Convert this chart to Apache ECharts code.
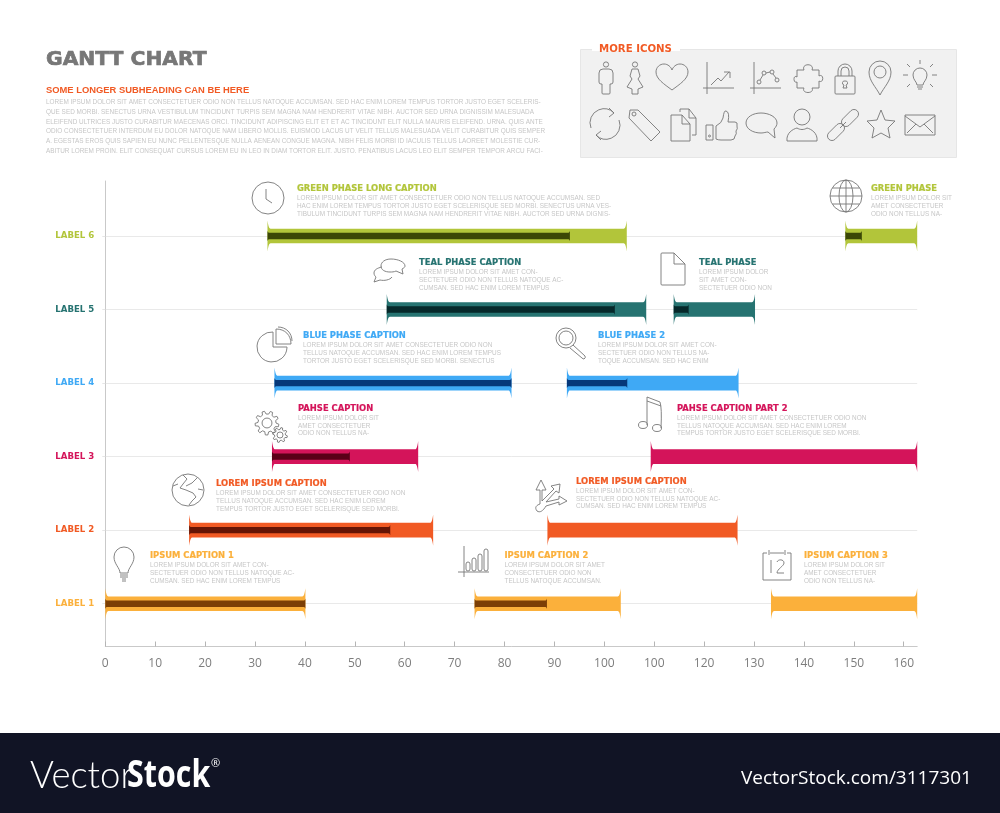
<!DOCTYPE html>
<html><head><meta charset="utf-8">
<style>html,body{margin:0;padding:0;background:#fff}#c{width:1000px;height:813px}</style>
<script src="https://cdn.jsdelivr.net/npm/echarts@6/dist/echarts.min.js"></script>
</head><body><div id="c"></div>
<script>
// ---------- data ----------
const categories = ['LABEL 1','LABEL 2','LABEL 3','LABEL 4','LABEL 5','LABEL 6'];
const rowValues  = [1,2,3,4,5,6];
const tickValues = [0,10,20,30,40,50,60,70,80,90,100,110,120,130,140,150,160];
const tickLabels = ['0','10','20','30','40','50','60','70','80','90','100','100','120','130','140','150','160'];
const phaseRows  = [1,1,1, 2,2, 3,3, 4,4, 5,5, 6,6];
const phaseStart = [0,74,133.4, 16.8,88.6, 33.4,109.3, 33.9,92.5, 56.4,113.9, 32.5,148.3];
const phaseEnd   = [40.1,103.3,162.7, 65.7,126.7, 62.7,162.7, 81.4,126.9, 108.4,130.2, 104.5,162.7];
const phaseDone  = [40.1,88.5,null, 57.1,null, 49,null, 81.4,104.6, 102.1,116.9, 93.1,151.6];
const captions = ['IPSUM CAPTION 1','IPSUM CAPTION 2','IPSUM CAPTION 3','LOREM IPSUM CAPTION','LOREM IPSUM CAPTION','PAHSE CAPTION','PAHSE CAPTION PART 2','BLUE PHASE CAPTION','BLUE PHASE 2','TEAL PHASE CAPTION','TEAL PHASE','GREEN PHASE LONG CAPTION','GREEN PHASE'];
const L_CON = ['LOREM IPSUM DOLOR SIT AMET CON-','SECTETUER ODIO NON TELLUS NATOQUE AC-','CUMSAN. SED HAC ENIM LOREM TEMPUS'];
const L_SHORT = ['LOREM IPSUM DOLOR SIT','AMET CONSECTETUER','ODIO NON TELLUS NA-'];
const L_LONG = ['LOREM IPSUM DOLOR SIT AMET CONSECTETUER ODIO NON','TELLUS NATOQUE ACCUMSAN. SED HAC ENIM LOREM','TEMPUS TORTOR JUSTO EGET SCELERISQUE SED MORBI.'];
const bodies = [L_CON,
 ['LOREM IPSUM DOLOR SIT AMET','CONSECTETUER ODIO NON','TELLUS NATOQUE ACCUMSAN.'],
 L_SHORT, L_LONG, L_CON, L_SHORT, L_LONG,
 ['LOREM IPSUM DOLOR SIT AMET CONSECTETUER ODIO NON','TELLUS NATOQUE ACCUMSAN. SED HAC ENIM LOREM TEMPUS','TORTOR JUSTO EGET SCELERISQUE SED MORBI. SENECTUS'],
 ['LOREM IPSUM DOLOR SIT AMET CON-','SECTETUER ODIO NON TELLUS NA-','TOQUE ACCUMSAN. SED HAC ENIM'],
 L_CON,
 ['LOREM IPSUM DOLOR','SIT AMET CON-','SECTETUER ODIO NON'],
 ['LOREM IPSUM DOLOR SIT AMET CONSECTETUER ODIO NON TELLUS NATOQUE ACCUMSAN. SED','HAC ENIM LOREM TEMPUS TORTOR JUSTO EGET SCELERISQUE SED MORBI. SENECTUS URNA VES-','TIBULUM TINCIDUNT TURPIS SEM MAGNA NAM HENDRERIT VITAE NIBH. AUCTOR SED URNA DIGNIS-'],
 L_SHORT];
const introLines = ['LOREM IPSUM DOLOR SIT AMET CONSECTETUER ODIO NON TELLUS NATOQUE ACCUMSAN. SED HAC ENIM LOREM TEMPUS TORTOR JUSTO EGET SCELERIS-',
 'QUE SED MORBI. SENECTUS URNA VESTIBULUM TINCIDUNT TURPIS SEM MAGNA NAM HENDRERIT VITAE NIBH. AUCTOR SED URNA DIGNISSIM MALESUADA',
 'ELEIFEND ULTRICES JUSTO CURABITUR MAECENAS ORCI. TINCIDUNT ADIPISCING ELIT ET ET AC TINCIDUNT ELIT NULLA MAURIS ELEIFEND. URNA. QUIS ANTE',
 'ODIO CONSECTETUER INTERDUM EU DOLOR NATOQUE NAM LIBERO MOLLIS. EUISMOD LACUS UT VELIT TELLUS MALESUADA VELIT CURABITUR QUIS SEMPER',
 'A. EGESTAS EROS QUIS SAPIEN EU NUNC PELLENTESQUE NULLA AENEAN CONGUE MAGNA. NIBH FELIS MORBI ID IACULIS TELLUS LAOREET MOLESTIE CUR-',
 'ABITUR LOREM PROIN. ELIT CONSEQUAT CURSUS LOREM EU IN LEO IN DIAM TORTOR ELIT. JUSTO. PENATIBUS LACUS LEO ELIT SEMPER TEMPOR ARCU FACI-'];

// ---------- styles / layout ----------
const rowColor = {1:'#fbb03b',2:'#f15a24',3:'#d4145a',4:'#3fa9f5',5:'#267371',6:'#b2c53a'};
const rowDark  = {1:'#7c3f06',2:'#661505',3:'#5a0018',4:'#06387a',5:'#06282a',6:'#3b4706'};
const capPos = [[150,556],[504.5,556],[804,556],[216,484],[576,481.7],[298,408.7],[677,408.7],[303,336.3],[598,336.3],[419,263],[699,263],[297,189],[871,189]];
const FB = 'Liberation Sans', FH = 'DejaVu Sans', FO='Open Sans';
function txt(text,x,y,size,family,weight,fill,sx,stroke){
  const style={text,x:0,y:0,fontSize:size,fontFamily:family,fontWeight:weight,fill,verticalAlign:'middle',align:'left'};
  if(stroke){style.stroke=fill;style.lineWidth=stroke;}
  return {type:'text',silent:true,z:5,x,y,scaleX:sx||1,scaleY:1,style};
}
const graphics = [
 {type:'rect',silent:true,z:0,shape:{x:580.5,y:49.5,width:376,height:108},style:{fill:'#f1f1f1',stroke:'#e6e6e6',lineWidth:1}},
 {type:'rect',silent:true,z:1,shape:{x:592,y:43,width:88,height:8},style:{fill:'#fff'}},
 {type:'rect',silent:true,z:0,shape:{x:0,y:733,width:1000,height:80},style:{fill:'#111425'}},
 txt('GANTT CHART',46,59.5,20.3,FH,'bold','#777777',1,0.7),
 txt('SOME LONGER SUBHEADING CAN BE HERE',46,90.7,9.4,FB,'bold','#f15a24'),
 txt('MORE ICONS',599,49,10.2,FH,'bold','#f15a24'),
 txt('Vector',30,776,38,'Lato','300','#ffffff',0.96),
 txt('Stock',127,776,38,FO,'bold','#ffffff',0.8),
 txt('®',211,764,11,FO,'normal','#ffffff'),
 txt('VectorStock.com/3117301',741,779,19,FO,'normal','#ffffff')
];
introLines.forEach((l,i)=>graphics.push(txt(l,46,102+i*9.9,6.4,FB,'normal','#c6c6c6')));
const capRows=[1,1,1,2,2,3,3,4,4,5,5,6,6];
captions.forEach((c,i)=>{
  const [x,y]=capPos[i];
  graphics.push(txt(c,x,y,8.4,FH,'bold',rowColor[capRows[i]],1,0.2));
  bodies[i].forEach((l,j)=>graphics.push(txt(l,x,y+9.3+j*7.75,6.4,FB,'normal','#c6c6c6')));
});

// ---------- icons (outline drawings, local px around a centre) ----------
const ci=(x,y,r)=>`M${x+r} ${y}A${r} ${r} 0 1 1 ${x-r} ${y}A${r} ${r} 0 1 1 ${x+r} ${y}Z`;
const el=(x,y,a,b)=>`M${x+a} ${y}A${a} ${b} 0 1 1 ${x-a} ${y}A${a} ${b} 0 1 1 ${x+a} ${y}Z`;
function gear(cx,cy,R,r,n){let d='';for(let i=0;i<n;i++){const s=2*Math.PI/n,a=i*s;
  const p=(rr,t)=>(cx+rr*Math.cos(t)).toFixed(1)+' '+(cy+rr*Math.sin(t)).toFixed(1);
  d+=(i?'L':'M')+p(r,a)+'L'+p(R,a+s*.15)+'L'+p(R,a+s*.45)+'L'+p(r,a+s*.6);}
  return d+'Z'+ci(cx,cy,r*.55);}
const bulbBody='M-4 10C-4 5 -10 1 -10 -6A10 10 0 0 1 10 -6C10 1 4 5 4 10ZM-4 12H4M-4 14H4M-2 16H2';
const icons=[
 [606,78,ci(0,-13.5,2.6)+'M-3 -9H3Q7 -9 7 -5V4Q7 6 5 6H4V15Q4 16 3 16H-3Q-4 16 -4 15V6H-5Q-7 6 -7 4V-5Q-7 -9 -3 -9Z'],
 [635,78,ci(0,-13.5,2.6)+'M-3 -9H3L5 -2L3 1L8 9L3 11V16H-3V11L-8 9L-3 1L-5 -2Z'],
 [672,77,'M0 13C-8 7 -16 2 -16 -5C-16 -10 -12 -13 -8 -13C-4 -13 -1 -10 0 -7C1 -10 4 -13 8 -13C12 -13 16 -10 16 -5C16 2 8 7 0 13Z'],
 [719,79,'M-12 -17V15M-16 9H15M-8 6L-1 -1L2 2L10 -7M5 -7H11V-1'],
 [766,79,'M-12 -17V15M-16 9H15M-6 1L-3 -4M0 -6L4 -7M7 -5L10 -1'+ci(-7,3,2)+ci(-2,-6,2)+ci(6,-7,2)+ci(11,1,2)],
 [808,78,'M-11 -8H-4C-7 -15 7 -15 4 -8H11V-2C16 -5 16 6 11 3V10H4C7 16 -7 16 -4 10H-11V4C-15 6 -15 -4 -11 -1Z'],
 [845,78,'M-9 -2H9Q10 -2 10 -1V15Q10 16 9 16H-9Q-10 16 -10 15V-1Q-10 -2 -9 -2ZM-7 -2V-7A7 7 0 0 1 7 -7V-2M-4 -2V-7A4 4 0 0 1 4 -7V-2M0 3A2 2 0 0 1 1 7L2 10H-2L-1 7A2 2 0 0 1 0 3Z'],
 [880,78,'M0 17C-4 9 -11 3 -11 -6A11 11 0 0 1 11 -6C11 3 4 9 0 17Z'+ci(0,-6,6)],
 [920,79,'M-3 6C-3 3 -7 1 -7 -4A7 7 0 0 1 7 -4C7 1 3 3 3 6ZM-3 8H3M-2 10H2M0 -15V-19M-10 -12L-13 -15M10 -12L13 -15M-12 -4H-17M12 -4H17M-10 5L-13 8M10 5L13 8'],
 [605,124,'M-14 4A14 14 0 0 1 9 -11M4 -16L9 -11L4 -7M14 -4A14 14 0 0 1 -9 11M-4 7L-9 11L-4 16'],
 [645,125,'M-15 -15H-7L15 7L6 16L-16 -7Z'+ci(-11,-11,2)],
 [683,125,'M-3 -13V-16H6L13 -7V10H9M6 -16V-7H13M-12 -10H-1L7 -1V16H-12ZM-1 -10V-1H7'],
 [721,125,'M-15 0H-8V15H-15ZM-5 1Q1 -2 2 -7Q3 -15 5 -14Q9 -13 7 -3H14Q17 -3 16 1Q17 4 15 6Q16 9 14 11Q14 15 10 15H0Q-3 15 -5 14Z'+ci(-11.5,11,1)],
 [761,124,'M0 -11C-8 -11 -15 -7 -15 -1C-15 5 -8 9 0 9C3 9 5 8 7 8L14 14L13 5C15 3 16 1 16 -1C16 -7 8 -11 0 -11Z'],
 [802,125,ci(0,-8,8)+'M-15 16C-16 8 -9 4 -5 3C-2 5 2 5 5 3C9 4 16 8 15 16Z'],
 [843,125,'M-14.2 7.8L-6.2 -0.2A4.5 4.5 0 0 1 0.2 6.2L-7.8 14.2A4.5 4.5 0 0 1 -14.2 7.8ZM-0.2 -6.2L7.8 -14.2A4.5 4.5 0 0 1 14.2 -7.8L6.2 0.2A4.5 4.5 0 0 1 -0.2 -6.2ZM-3 3L3 -3'],
 [881,125,'M0 -15L4 -5L14 -4L7 3L9 13L0 8L-9 13L-7 3L-14 -4L-4 -5Z'],
 [920,125,'M-15 -10H15V10H-15ZM-15 -9L0 2L15 -9M-13 8L-4 -1M13 8L4 -1'],
 [268,198,ci(0,0,16)+'M-2 -9V1L4 5'],
 [389,271,'M2 -12C-4 -12 -8 -9 -8 -5C-8 -1 -4 1 1 1C3 1 5 1 7 0L14 3L13 -2C15 -3 16 -4 16 -5C16 -9 9 -12 2 -12ZM-7 -4C-12 -3 -15 -1 -15 2C-15 4 -14 5 -13 6L-15 11L-9 9C-5 10 1 9 3 6'],
 [275,343,'M-2 -11A15 15 0 1 0 12 4H-2ZM1 -14V1H16C16 -8 10 -14 1 -14ZM3 -16C11 -16 17 -10 17 -2'],
 [571,344,ci(-5,-6,10)+ci(-5,-6,7)+'M2 1L14 12Q15 14 13 15Q12 15 11 14L-1 4'],
 [271,427,gear(-4,-4,12,9,9)+gear(9,8,7.5,5.5,8)],
 [651,413,'M-4 12V-16L9 -11Q11 -5 10 15M-4 -12L10 -7'+el(-8,12,4.5,3.5)+el(6,15,4.5,3.5)],
 [188,490,ci(0,0,16)+'M-5 -15L-1 -11L-5 -6L-8 -2L-2 0L5 3L8 7L4 11L1 15M-2 -4L4 -7L9 -12M10 -1L15 0M-15 -4L-10 -6'],
 [551,496,'M-14 15C-17 11 -14 9 -11 8V-6H-15L-10 -16L-5 -6H-9V5L3 -7L0 -10L9 -12L8 -3L5 -5L-5 6L8 3V0L16 5L8 9V6L-5 10C-8 15 -11 17 -14 15Z'],
 [124,563,bulbBody+'M-2 18H2'],
 [473,562,'M-9 -16V15M-15 10H16M-7 7A2 2 0 0 0 -3 7V2A2 2 0 0 0 -7 2ZM-1 7A2 2 0 0 0 3 7V-2A2 2 0 0 0 -1 -2ZM5 7A2 2 0 0 0 9 7V-6A2 2 0 0 0 5 -6ZM11 7A2 2 0 0 0 15 7V-11A2 2 0 0 0 11 -11Z'],
 [777,565,'M-10 -12H-14V15H14V-12H10M-7 -12H7M-8 -15V-10M8 -15V-10M-6 -5V8M0 -3C1 -6 7 -6 7 -2C7 1 0 4 0 8H7'],
 [673,269,'M-11 -16H1L12 -5V15Q12 16 11 16H-11Q-12 16 -12 15V-15Q-12 -16 -11 -16ZM1 -16V-5H12'],
 [846,196,ci(0,0,16)+el(0,0,7,16)+'M0 -16V16M-16 0H16M-13.5 -8H13.5M-13.5 8H13.5']
];

const chart = echarts.init(document.getElementById('c'),null,{renderer:'canvas'});

function flare(xa,xb,cy,h,H,L){
  const pts=[[xa,cy+H],[xa,cy-H]],N=8;
  for(let i=1;i<=N;i++){const t=i/N;pts.push([xa+L*t,cy-(h+(H-h)*Math.pow(1-t,3))]);}
  for(let i=0;i<=N;i++){const t=i/N;pts.push([xb-L*(1-t),cy-(h+(H-h)*Math.pow(t,3))]);}
  pts.push([xb,cy-H],[xb,cy+H]);
  for(let i=N;i>=0;i--){const t=i/N;pts.push([xb-L*(1-t),cy+(h+(H-h)*Math.pow(t,3))]);}
  for(let i=N-1;i>=1;i--){const t=i/N;pts.push([xa+L*t,cy+(h+(H-h)*Math.pow(1-t,3))]);}
  return pts;
}
const phaseSeries = rowValues.map((row,r)=>({
  type:'custom',name:categories[r],silent:true,clip:false,z:3,
  encode:{x:[1,3],y:0},
  data:phaseRows.map((v,i)=>[v,phaseStart[i],phaseDone[i],phaseEnd[i]]).filter(d=>d[0]===row),
  renderItem(params,api){
    const y=api.value(0),a=api.coord([api.value(1),y]),b=api.coord([api.value(3),y]);
    const done=api.value(2);
    const kids=[{type:'polygon',shape:{points:flare(a[0],b[0],a[1],7.3,15.5,3.5)},style:{fill:rowColor[row]}}];
    if(done===done && done!=null && done>0){
      const c=api.coord([done,y]);
      kids.push({type:'polygon',shape:{points:flare(a[0],c[0],a[1],3.2,5.2,2)},style:{fill:rowDark[row]}});
    }
    return {type:'group',children:kids};
  }
}));
const iconSeries={type:'custom',coordinateSystem:'none',silent:true,z:6,clip:false,data:[0],
  renderItem(){return {type:'group',children:icons.map(([x,y,d])=>({type:'path',x,y,shape:{pathData:d},style:{fill:'none',stroke:'#767676',lineWidth:0.9}}))};}};

chart.setOption({
  animation:false,backgroundColor:'#fff',
  grid:{left:105.3,top:181,width:811.9,height:465.5,containLabel:false},
  xAxis:{type:'value',min:0,max:162.7,
    axisLine:{show:true,lineStyle:{color:'#c9c9c9',width:1}},
    axisTick:{show:true,inside:true,length:5,customValues:tickValues,lineStyle:{color:'#b5b5b5'}},
    axisLabel:{customValues:tickValues,margin:11,color:'#7d7d7d',fontFamily:FO,fontSize:12,
      formatter:(v)=>tickLabels[tickValues.indexOf(v)]},
    splitLine:{show:false}},
  yAxis:{type:'value',min:0.418,max:6.748,
    axisLine:{show:true,lineStyle:{color:'#c9c9c9',width:1}},
    axisTick:{show:true,length:3,customValues:rowValues,lineStyle:{color:'#e6e6e6'}},
    splitLine:{show:true,lineStyle:{color:'#e9e9e9',width:1}},
    axisLabel:{customValues:rowValues,margin:11,fontFamily:FH,fontWeight:'bold',fontSize:8.6,
      color:(v)=>rowColor[v],formatter:(v)=>categories[v-1]}},
  series:[...phaseSeries,iconSeries],
  graphic:{elements:graphics}
});
</script></body></html>
